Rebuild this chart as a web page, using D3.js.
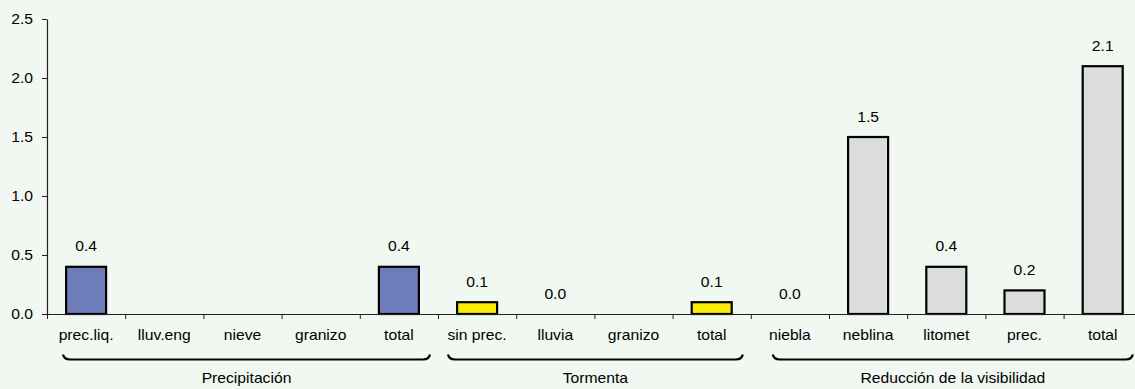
<!DOCTYPE html>
<html>
<head>
<meta charset="utf-8">
<script src="https://cdn.jsdelivr.net/npm/d3@7"></script>
<style>
  html, body { margin: 0; padding: 0; background: #f1f7f1; }
  svg { display: block; }
  text { font-family: "Liberation Sans", Arial, sans-serif; fill: #000; }
</style>
</head>
<body>
<svg id="chart" width="1135" height="389"></svg>
<script>
const categories = ["prec.liq.", "lluv.eng", "nieve", "granizo", "total",
                    "sin prec.", "lluvia", "granizo", "total",
                    "niebla", "neblina", "litomet", "prec.", "total"];
const values = [0.4, null, null, null, 0.4,
                0.1, 0.0, null, 0.1,
                0.0, 1.5, 0.4, 0.2, 2.1];
const groupNames = ["Precipitación", "Tormenta", "Reducción de la visibilidad"];
const groupStart = [0, 5, 9];
const groupEnd = [4, 8, 13];
const groupColors = ["#6f7cba", "#f9ec00", "#dcdcdc"];
const yTicks = [0, 0.5, 1.0, 1.5, 2.0, 2.5];

const svg = d3.select("#chart");
const plotLeft = 47, bandW = 78.2, plotTop = 19, plotBase = 314;
const fontSize = 14, stretch = 1.12;

const x = d3.scaleLinear().domain([0, categories.length]).range([plotLeft, plotLeft + categories.length * bandW]);
const y = d3.scaleLinear().domain([0, 2.5]).range([plotBase, plotTop]);

const groupOf = i => groupStart.findIndex((s, g) => i >= s && i <= groupEnd[g]);

function stext(sel, xPos, yPos, anchor) {
  return sel.append("text")
    .attr("transform", `translate(${xPos},${yPos}) scale(${stretch},1)`)
    .attr("text-anchor", anchor)
    .style("font-size", fontSize + "px");
}

// Y axis
const yAxis = svg.append("g")
  .attr("transform", `translate(${plotLeft},0)`)
  .call(d3.axisLeft(y).tickValues(yTicks).tickFormat(d3.format(".1f")).tickSize(5).tickSizeOuter(0));
yAxis.select(".domain").attr("stroke", "#222").attr("stroke-width", 1.2);
yAxis.selectAll(".tick line").attr("stroke", "#222");
yAxis.selectAll(".tick text").remove();
yTicks.forEach(t => {
  stext(svg, 33, y(t) + 5, "end").text(d3.format(".1f")(t));
});

// Bars
const bw = 40;
const barData = values.map((v, i) => ({ v, i })).filter(d => d.v !== null);
svg.append("g").selectAll("rect")
  .data(barData.filter(d => d.v > 0))
  .join("rect")
  .attr("x", d => x(d.i + 0.5) - bw / 2)
  .attr("y", d => y(d.v))
  .attr("width", bw)
  .attr("height", d => y(0) - y(d.v))
  .attr("fill", d => groupColors[groupOf(d.i)])
  .attr("stroke", "#000")
  .attr("stroke-width", 2.2);

// X axis
const xAxis = svg.append("g")
  .attr("transform", `translate(0,${plotBase})`)
  .call(d3.axisBottom(x).tickValues(d3.range(0, categories.length + 1)).tickFormat("").tickSize(5).tickSizeOuter(0));
xAxis.select(".domain").attr("stroke", "#222").attr("stroke-width", 1.2);
xAxis.selectAll(".tick line").attr("stroke", "#222");

// Value labels
barData.forEach(d => {
  stext(svg, x(d.i + 0.5), y(d.v) - 15.5, "middle").text(d3.format(".1f")(d.v));
});

// Category labels
categories.forEach((c, i) => {
  stext(svg, x(i + 0.5), 340, "middle").text(c);
});

// Group braces
const braceInsetL = [16, 10, 22];
const braceInsetR = [8, 8, 9];
const by = 359.5, bh = 5, br = 7;
groupNames.forEach((g, k) => {
  const x0 = x(groupStart[k]) + braceInsetL[k];
  const x1 = x(groupEnd[k] + 1) - braceInsetR[k];
  const p = d3.path();
  p.moveTo(x0, by - bh);
  p.quadraticCurveTo(x0 + 1, by, x0 + br, by);
  p.lineTo(x1 - br, by);
  p.quadraticCurveTo(x1 - 1, by, x1, by - bh);
  svg.append("path").attr("d", p.toString()).attr("fill", "none")
    .attr("stroke", "#000").attr("stroke-width", 2.2);
  stext(svg, (x0 + x1) / 2, 383, "middle").text(g);
});
</script>
</body>
</html>
